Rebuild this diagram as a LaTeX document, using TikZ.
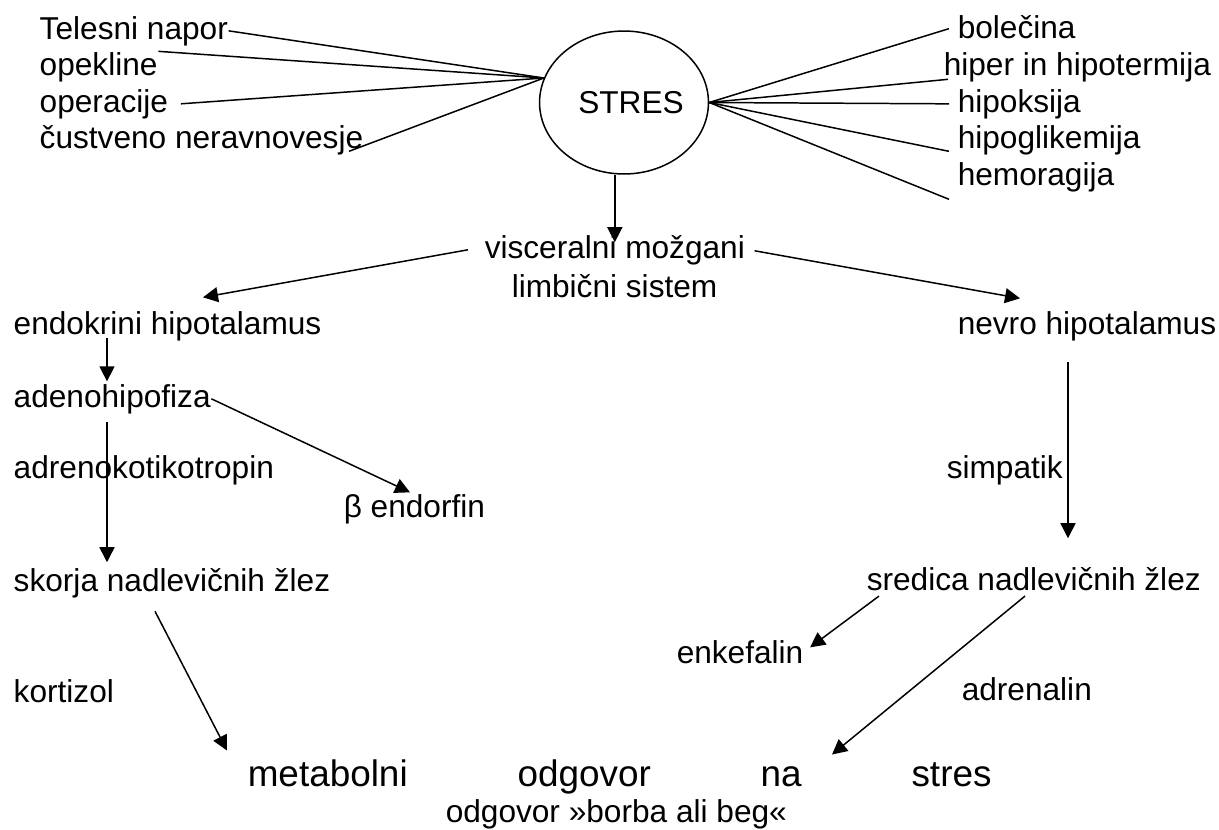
\documentclass[tikz,border=0pt]{standalone}
\usepackage{fontspec}
\setmainfont{Liberation Sans}
\usetikzlibrary{shapes.geometric,arrows.meta,calc}

\begin{document}
\begin{tikzpicture}[x=0.02cm,y=-0.02cm,line width=0.85pt]
      \tikzstyle{every node}=[font=\fontsize{18}{22}\selectfont,inner sep=0pt]
      \tikzstyle{txt}=[anchor=base west]
      \tikzstyle{big}=[anchor=base west,font=\fontsize{21}{25}\selectfont]
      \tikzstyle{arr}=[-{Triangle[length=0.3cm,width=0.3cm]}]
      %%% HELP LINES - uncomment to design/extend
      %\draw[gray,very thin] (0,0) grid[step=50] (1219,829);
      \useasboundingbox (0,0) rectangle (1219,829);
      %% STRES
      \node (stres) at (624,102.5) [draw,ellipse,minimum width=3.36cm,minimum height=2.86cm] {\hspace*{0.28cm}STRES};
      % causes, left
      \node (napor) at (39,39) [txt] {Telesni napor};
      \node (opek) at (39,75) [txt] {opekline};
      \node (oper) at (39,112) [txt] {operacije};
      \node (cust) at (39,148) [txt] {čustveno neravnovesje};
      \draw (napor.east) -- (stres.163);
      \draw (opek.north east) -- (stres.163);
      \draw ($(oper.east)+(12,0)$) -- (stres.163);
      \draw ($(cust.south east)+(-15,-4)$) -- (stres.163);
      % causes, right
      \node (bol) at (957,38) [txt] {bolečina};
      \node (hiper) at (943,75) [txt] {hiper in hipotermija};
      \node (hipok) at (957,112) [txt] {hipoksija};
      \node (hglik) at (957,148) [txt] {hipoglikemija};
      \node (hemo) at (957,185) [txt] {hemoragija};
      \draw (stres.east) -- ($(bol.west)+(-8,2)$);
      \draw (stres.east) -- ($(hiper.south west)+(5,-3)$);
      \draw (stres.east) -- ($(hipok.west)+(-8,0)$);
      \draw (stres.east) -- ($(hglik.south west)+(-8,-4)$);
      \draw (stres.east) -- ($(hemo.south west)+(-8,7)$);
      %% limbic system
      \node (visc) at (484,258) [txt] {visceralni možgani};
      \node (limb) at (511,297) [txt] {limbični sistem};
      \draw[arr] (visc.north |- stres.south) -- ($(visc.north)+(0,8)$);
      % endocrine branch
      \node (endo) at (13,334) [txt] {endokrini hipotalamus};
      \node (adeno) at (13,407) [txt] {adenohipofiza};
      \node (acth) at (13,478) [txt] {adrenokotikotropin};
      \node (bend) at (343,517) [txt] {β endorfin};
      \node (skorja) at (13,591) [txt] {skorja nadlevičnih žlez};
      \node (kort) at (13,702) [txt] {kortizol};
      \draw[arr] ($(visc.west)+(-16,0)$) -- ($(endo.north west)+(190,-13)$);
      \draw[arr] ($(endo.south west)+(94,-3)$) -- ($(adeno.north west)+(94,-2)$);
      \draw[arr] (adeno.east) -- ($(bend.north west)+(67,-1)$);
      \draw[arr] ($(adeno.south west)+(94,8)$) -- ($(skorja.north west)+(94,-5)$);
      % nervous branch
      \node (nevro) at (957,334) [txt] {nevro hipotalamus};
      \node (simp) at (946,478) [txt] {simpatik};
      \node (sred) at (866,590) [txt] {sredica nadlevičnih žlez};
      \node (enk) at (676,663) [txt] {enkefalin};
      \node (adren) at (961,700) [txt] {adrenalin};
      \draw[arr] ($(visc.east)+(9,1)$) -- ($(nevro.north west)+(63,-12)$);
      \draw[arr] ($(nevro.south west)+(111,21)$) -- ($(sred.north west)+(202,-28)$);
      \draw[arr] ($(sred.south west)+(13,5)$) -- ($(enk.north east)+(6,8)$);
      %% response
      \node (meta) at (247,786) [big] {\makebox[14.88cm][s]{metabolni odgovor na stres}};
      \node (beg) at (445,822) [txt] {odgovor »borba ali beg«};
      \draw[arr] ($(skorja.south west)+(142,13)$) -- ($(meta.north west)+(-20,-8)$);
      \draw[arr] ($(sred.south west)+(159,5)$) -- ($(meta.north west)+(585,-4)$);
\end{tikzpicture}
\end{document}
